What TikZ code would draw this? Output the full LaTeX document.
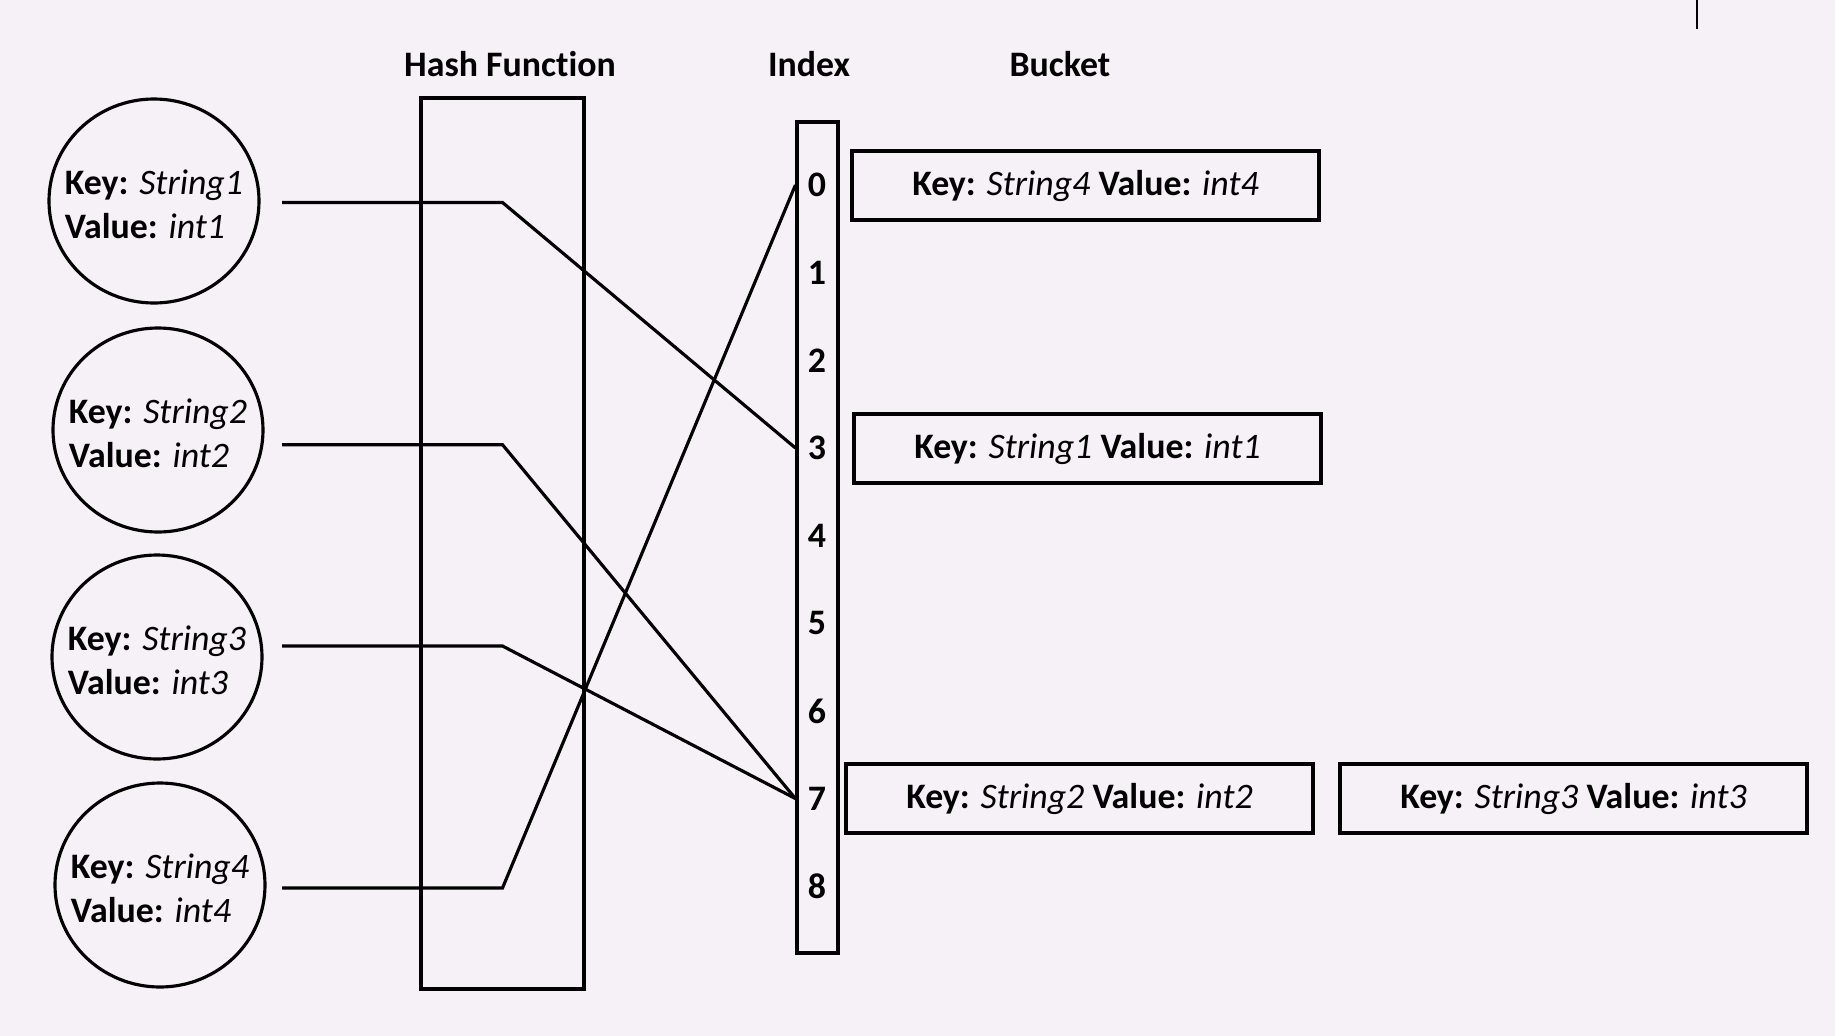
\documentclass[tikz,border=0pt]{standalone}
\usepackage{fontspec}
\setmainfont{Carlito}[Ligatures=NoCommon]
\usepackage{tikz}
\usetikzlibrary{shapes.geometric, positioning, calc}
\definecolor{bgpage}{HTML}{F6F1F6}

\begin{document}
\begin{tikzpicture}[line width=0.9pt,
  every node/.style={font=\fontsize{10.2}{12.6}\selectfont},
  keynode/.style={draw, ellipse, minimum width=2.10cm, minimum height=2.04cm, inner sep=0pt},
  bucketbox/.style={draw, rectangle, minimum width=4.67cm, minimum height=0.69cm, inner sep=0pt},
  heading/.style={font=\fontsize{10.2}{12.3}\selectfont\bfseries}]
% page background and frame
\fill[bgpage] (0,0) rectangle (18.35,-10.36);
\useasboundingbox (0,0) rectangle (18.35,-10.36);
\draw[line width=0.5pt] (16.97,0) -- (16.97,-0.29);
% headings
\node[heading] (hhash) at (5.10,-0.64) {Hash Function};
\node[heading] (hidx) at (8.09,-0.64) {Index};
\node[heading] (hbuck) at (10.60,-0.64) {Bucket};
% key/value pairs
\foreach \n/\x/\y in {1/1.54/-2.01, 2/1.58/-4.30, 3/1.57/-6.57, 4/1.60/-8.85} {
  \node[keynode, label={[align=left, yshift=-0.03cm]center:\textbf{Key:} \textit{String\n}\\\textbf{Value:} \textit{int\n}}] (k\n) at (\x,\y) {};
}
% hash function and index column
\node[draw, minimum width=1.63cm, minimum height=8.91cm, inner sep=0pt] (hash) at (5.025,-5.435) {};
\node[draw, minimum width=0.41cm, minimum height=8.31cm, inner sep=0pt] (idx) at (8.175,-5.375) {};
\foreach \i in {0,...,8} {
  \node[font=\fontsize{10.2}{12.3}\selectfont\bfseries] (i\i) at (8.17,{-1.85-0.8765*\i}) {\i};
}
% buckets
\node[bucketbox] (b0) at (10.855,-1.855) {\textbf{Key:} \textit{String4} \textbf{Value:} \textit{int4}};
\node[bucketbox] (b3) at (10.875,-4.485) {\textbf{Key:} \textit{String1} \textbf{Value:} \textit{int1}};
\node[bucketbox] (b7) at (10.795,-7.985) {\textbf{Key:} \textit{String2} \textbf{Value:} \textit{int2}};
\node[bucketbox] (b7b) at (15.735,-7.985) {\textbf{Key:} \textit{String3} \textbf{Value:} \textit{int3}};
% connectors through the hash function
\foreach \n/\y/\t in {1/-2.025/3, 2/-4.447/7, 3/-6.46/7, 4/-8.88/0} {
  \coordinate (s\n) at (2.82,\y);
  \draw (s\n) -- (hash.center |- s\n) -- (idx.west |- i\t);
}
\end{tikzpicture}
\end{document}
